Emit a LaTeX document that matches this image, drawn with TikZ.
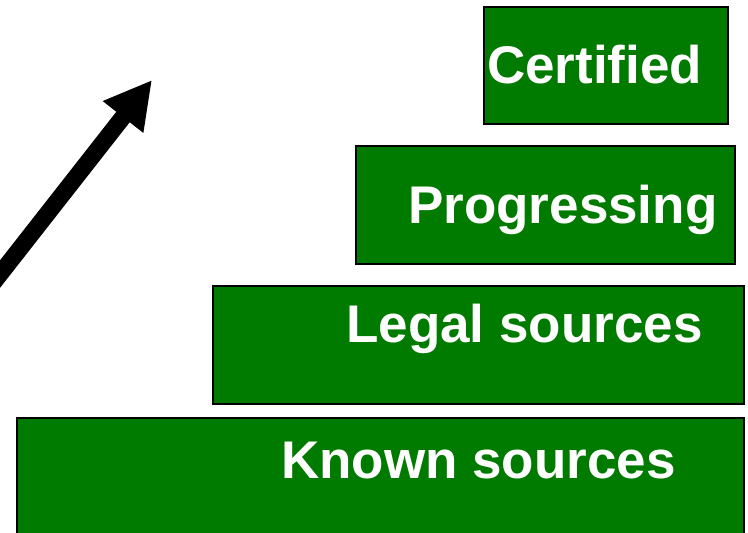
\documentclass[tikz,border=0pt]{standalone}
\usepackage{fontspec}
\setmainfont{Liberation Sans}
\usetikzlibrary{arrows.meta}
\definecolor{stairgreen}{RGB}{0,123,0}
\tikzset{
 stair/.style={rectangle, draw=black, line width=1.5pt, fill=stairgreen, inner sep=0pt, anchor=north west},
 stairtext/.style={text=white, font=\fontsize{53}{60}\selectfont\bfseries, inner sep=0pt, anchor=base west},
 rise/.style={line width=17pt, -{Triangle[width=48pt,length=47pt]}}
}

\begin{document}
\begin{tikzpicture}[x=1pt, y=-1pt]
 \useasboundingbox (0,0) rectangle (748,533);
 \clip (0,0) rectangle (748,533);
 \node[stair, minimum width=244pt, minimum height=117pt] (certified) at (483,6) {};
 \node[stair, minimum width=379pt, minimum height=118pt] (progressing) at (355,145) {};
 \node[stair, minimum width=531pt, minimum height=118pt] (legal) at (212,285) {};
 \node[stair, minimum width=727pt, minimum height=140pt] (known) at (16,417) {};
 \node[stairtext] (certifiedtext) at (487,83) {Certified};
 \node[stairtext] (progressingtext) at (408,223) {Progressing};
 \node[stairtext] (legaltext) at (346,342) {Legal sources};
 \node[stairtext] (knowntext) at (281,478) {Known sources};
 \coordinate (tail) at (-25,306);
 \coordinate (tip) at (152,80);
 \draw[rise] (tail) -- (tip);
\end{tikzpicture}
\end{document}
